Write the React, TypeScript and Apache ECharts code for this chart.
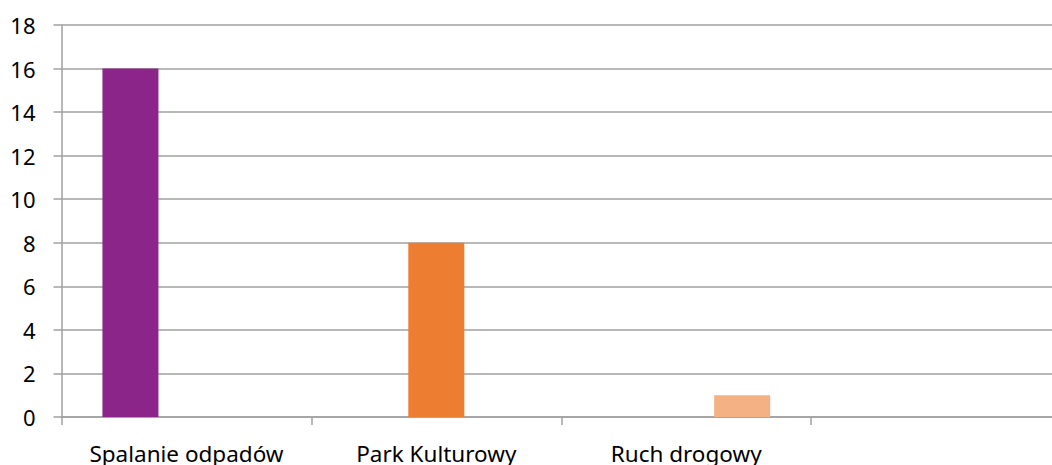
import React, { useEffect, useRef } from "react";
import * as echarts from "echarts";

const categories = ["Spalanie odpadów", "Park Kulturowy", "Ruch drogowy", ""];
const seriesNames = ["Spalanie odpadów", "Park Kulturowy", "Ruch drogowy"];
const seriesValues: (number | null)[][] = [
  [16, null, null, null],
  [null, 8, null, null],
  [null, null, 1, null],
];
const seriesColors = ["#8B2589", "#ED7D31", "#F4B183"];
const yTicks = { min: 0, max: 18, interval: 2 };

export default function App() {
  const ref = useRef<HTMLDivElement>(null);
  useEffect(() => {
    if (!ref.current) return;
    const chart = echarts.init(ref.current, undefined, { renderer: "svg" });
    const font = "'Noto Sans', 'Open Sans', sans-serif";
    chart.setOption({
      animation: false,
      backgroundColor: "#ffffff",
      grid: { left: 61.5, right: 1, top: 25, bottom: 46, containLabel: false },
      xAxis: {
        type: "category",
        data: categories,
        axisLine: { show: true, lineStyle: { color: "#a0a0a0", width: 1.5 } },
        axisTick: { show: true, length: 8, lineStyle: { color: "#a0a0a0", width: 1.5 } },
        axisLabel: { color: "#000", fontSize: 22.5, fontFamily: font, margin: 25, interval: 0 },
        splitLine: { show: false },
      },
      yAxis: {
        type: "value",
        min: yTicks.min,
        max: yTicks.max,
        interval: yTicks.interval,
        axisLine: { show: true, lineStyle: { color: "#a0a0a0", width: 1.5 } },
        axisTick: { show: true, length: 8, lineStyle: { color: "#a0a0a0", width: 1.5 } },
        axisLabel: { color: "#000", fontSize: 22, fontFamily: font, margin: 26 },
        splitLine: { show: true, lineStyle: { color: "#a0a0a0", width: 1.5 } },
      },
      series: seriesNames.map((name, i) => ({
        name,
        type: "bar",
        data: seriesValues[i],
        barWidth: 56,
        barGap: "0%",
        itemStyle: { color: seriesColors[i] },
      })),
    });
    return () => chart.dispose();
  }, []);
  return (
    <div
      style={{
        position: "absolute",
        left: 0,
        top: 0,
        width: 1052,
        height: 465,
        overflow: "hidden",
      }}
    >
      <div ref={ref} style={{ width: 1062, height: 465 }} />
    </div>
  );
}
